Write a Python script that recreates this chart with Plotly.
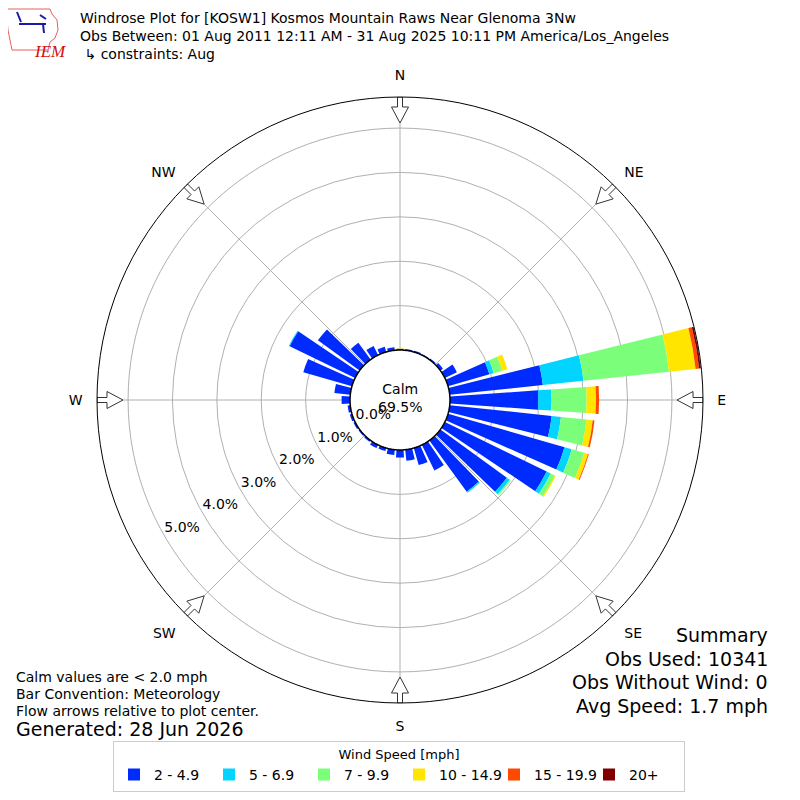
import numpy as np
import plotly.graph_objects as go

# wind direction bins (degrees, meteorological convention)
directions = list(range(0, 360, 10))

# speed bins and their colours (jet colormap steps)
speed_bins = ["2 - 4.9", "5 - 6.9", "7 - 9.9", "10 - 14.9", "15 - 19.9", "20+"]
bin_colors = ["#002bff", "#00d4ff", "#7bff7b", "#ffe500", "#ff4800", "#800000"]

# percent of observations per direction, one list per speed bin
pct_2_5 = [0.03, 0.03, 0.03, 0.02, 0.03, 0.07, 0.30, 0.97, 2.11, 1.99, 2.31, 2.73,
           2.55, 1.85, 1.43, 0.64, 0.40, 0.25, 0.17, 0.12, 0.07, 0.08, 0.04, 0.03,
           0.04, 0.05, 0.06, 0.19, 0.36, 1.14, 1.64, 1.16, 0.47, 0.23, 0.12, 0.07]
pct_5_7 = [0, 0, 0, 0, 0, 0, 0, 0.10, 0.92, 0.30, 0.21, 0.17,
           0.10, 0.08, 0.03, 0, 0, 0, 0, 0, 0, 0, 0, 0,
           0, 0, 0, 0, 0, 0, 0.02, 0, 0, 0, 0, 0]
pct_7_10 = [0, 0, 0, 0, 0, 0, 0, 0.20, 1.94, 0.79, 0.58, 0.29,
            0.10, 0.03, 0, 0, 0, 0, 0, 0, 0, 0, 0, 0,
            0, 0, 0, 0, 0, 0, 0, 0, 0, 0, 0, 0]
pct_10_15 = [0.01, 0, 0, 0, 0, 0, 0, 0.12, 0.60, 0.21, 0.14, 0.09,
             0.03, 0, 0, 0, 0, 0, 0, 0, 0, 0, 0, 0,
             0, 0, 0, 0, 0, 0, 0, 0, 0, 0, 0, 0]
pct_15_20 = [0, 0, 0, 0, 0, 0, 0, 0, 0.08, 0.07, 0.04, 0.02,
             0, 0, 0, 0, 0, 0, 0, 0, 0, 0, 0, 0,
             0, 0, 0, 0, 0, 0, 0, 0, 0, 0, 0, 0]
pct_20_up = [0, 0, 0, 0, 0, 0, 0, 0, 0.04, 0, 0, 0,
             0, 0, 0, 0, 0, 0, 0, 0, 0, 0, 0, 0,
             0, 0, 0, 0, 0, 0, 0, 0, 0, 0, 0, 0]
speed_data = [pct_2_5, pct_5_7, pct_7_10, pct_10_15, pct_15_20, pct_20_up]

ring_values = [0, 1, 2, 3, 4, 5]
compass_angles = [0, 45, 90, 135, 180, 225, 270, 315]
compass_names = ["N", "NE", "E", "SE", "S", "SW", "W", "NW"]

calm_pct = 69.5
title_lines = ["Windrose Plot for [KOSW1] Kosmos Mountain Raws Near Glenoma 3Nw",
               "Obs Between: 01 Aug 2011 12:11 AM - 31 Aug 2025 10:11 PM America/Los_Angeles",
               " \u21b3 constraints: Aug"]
note_lines = ["Calm values are < 2.0 mph", "Bar Convention: Meteorology",
              "Flow arrows relative to plot center."]
summary_lines = ["Summary", "Obs Used: 10341", "Obs Without Wind: 0", "Avg Speed: 1.7 mph"]

# radial scale: the calm circle sits between r_min and 0
r_min = -1.126
r_max = 5.70
outer_px = 303.0
px_per_unit = outer_px / (r_max - r_min)

FONT = "DejaVu Sans"
W = 800
SHIFT = 8  # page body margin pushes the figure 8px right/down


# page pixel -> paper coords
def px(x):
    return (x - SHIFT) / W


def py(y):
    return 1 - (y - SHIFT) / W


fig = go.Figure()

# stacked bars
for name, color, vals in zip(speed_bins, bin_colors, speed_data):
    fig.add_trace(go.Barpolar(r=vals, theta=directions, name=name, width=8,
                              marker=dict(color=color, line=dict(width=0))))

# calm circle in the middle
circ = np.linspace(0, 360, 361)
fig.add_trace(go.Scatterpolar(r=[0] * len(circ), theta=circ, mode="lines",
                              fill="toself", fillcolor="white",
                              line=dict(color="black", width=1.5),
                              showlegend=False, hoverinfo="skip"))

# flow arrows at the outer edge, pointing to the centre (local px shape)
arrow_p = [303, 293, 293, 277, 293, 293, 303, 303]
arrow_q = [-2.5, -2.5, -8.5, 0, 8.5, 2.5, 2.5, -2.5]
for ang in compass_angles:
    rr = []
    tt = []
    for p, q in zip(arrow_p, arrow_q):
        rr.append(np.hypot(p, q) / px_per_unit + r_min)
        tt.append(ang + np.degrees(np.arctan2(q, p)))
    fig.add_trace(go.Scatterpolar(r=rr, theta=tt, mode="lines", fill="toself",
                                  fillcolor="white", line=dict(color="#333333", width=1),
                                  showlegend=False, hoverinfo="skip"))

# ring labels
fig.add_trace(go.Scatterpolar(r=[v - 0.43 for v in ring_values], theta=[239.5] * len(ring_values),
                              mode="text", text=["%.1f%%" % v for v in ring_values],
                              textfont=dict(family=FONT, size=14, color="black"),
                              showlegend=False, hoverinfo="skip"))

fig.update_layout(
    width=W, height=W,
    margin=dict(l=0, r=0, t=0, b=0),
    paper_bgcolor="white",
    font=dict(family=FONT, size=14, color="black"),
    polar=dict(
        domain=dict(x=[px(400 - outer_px), px(400 + outer_px)],
                    y=[py(400 + outer_px), py(400 - outer_px)]),
        bgcolor="white",
        barmode="stack",
        radialaxis=dict(range=[r_min, r_max], tickvals=ring_values[1:], showticklabels=False,
                        ticks="", showline=False, gridcolor="#b0b0b0", gridwidth=1),
        angularaxis=dict(direction="clockwise", rotation=90, tickvals=compass_angles,
                         ticktext=compass_names, ticks="outside", ticklen=11,
                         tickcolor="rgba(0,0,0,0)", showline=True, linecolor="black",
                         linewidth=1, gridcolor="#b0b0b0", gridwidth=1,
                         tickfont=dict(family=FONT, size=14)),
    ),
    legend=dict(orientation="h", x=px(399), xanchor="center", y=py(741), yanchor="top",
                bordercolor="#cccccc", borderwidth=1, font=dict(family=FONT, size=14),
                title=dict(text="Wind Speed [mph]", side="top center",
                           font=dict(family=FONT, size=13)),
                entrywidth=50, entrywidthmode="pixels", traceorder="normal"),
)

# header text
for i, line in enumerate(title_lines):
    fig.add_annotation(text=line, xref="paper", yref="paper", x=px(78), y=py(18 + 18 * i),
                       xanchor="left", yanchor="middle", showarrow=False,
                       font=dict(family=FONT, size=14))

# logo stand-in: state outline, glyph and IEM letters
iowa_x = [7, 50, 52, 57, 58, 55, 50, 48, 12, 10, 8, 7]
iowa_y = [9, 9, 14, 20, 30, 38, 42, 50, 50, 40, 30, 20]
path = "M " + " L ".join("%f,%f" % (px(a), py(b)) for a, b in zip(iowa_x, iowa_y)) + " Z"
fig.add_shape(type="path", path=path, xref="paper", yref="paper",
              line=dict(color="#e86060", width=1))
glyph = ("M %f,%f L %f,%f M %f,%f L %f,%f M %f,%f L %f,%f M %f,%f L %f,%f"
         % (px(17), py(12), px(21), py(22), px(19), py(24), px(46), py(24),
            px(40), py(15), px(46), py(19), px(43), py(24), px(44), py(33)))
fig.add_shape(type="path", path=glyph, xref="paper", yref="paper",
              line=dict(color="#1a1aa8", width=2))
fig.add_annotation(text="<i>IEM</i>", xref="paper", yref="paper", x=px(32), y=py(40),
                   showarrow=False, font=dict(family="Liberation Serif", size=17, color="#d01010"))

# calm value
fig.add_annotation(text="Calm<br>%.1f%%" % calm_pct, xref="paper", yref="paper", x=px(400), y=py(398),
                   showarrow=False, font=dict(family=FONT, size=14))

# notes, bottom left
for i, line in enumerate(note_lines):
    fig.add_annotation(text=line, xref="paper", yref="paper", x=px(14), y=py(677 + 17 * i),
                       xanchor="left", yanchor="middle", showarrow=False,
                       font=dict(family=FONT, size=14))
fig.add_annotation(text="Generated: 28 Jun 2026", xref="paper", yref="paper", x=px(14),
                   y=py(729), xanchor="left", yanchor="middle", showarrow=False,
                   font=dict(family=FONT, size=19))

# summary, bottom right
for i, line in enumerate(summary_lines):
    fig.add_annotation(text=line, xref="paper", yref="paper", x=px(770), y=py(635 + 23.5 * i),
                       xanchor="right", yanchor="middle", showarrow=False,
                       font=dict(family=FONT, size=19))

fig.write_html("out.html")
